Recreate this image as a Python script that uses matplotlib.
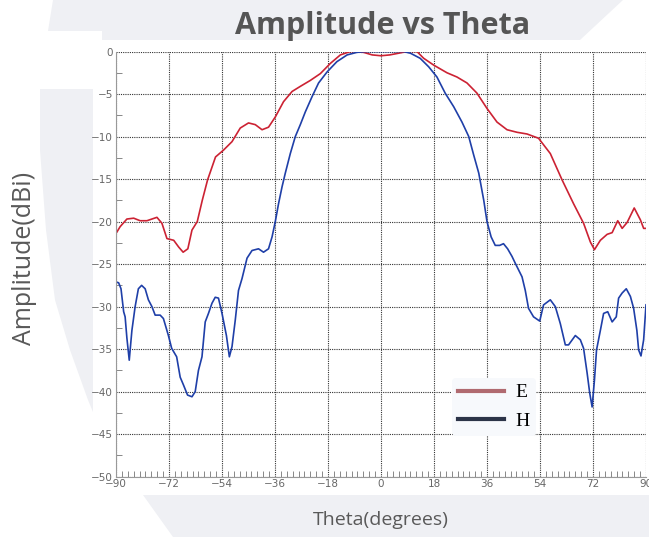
import matplotlib.pyplot as plt
from matplotlib.lines import Line2D
from matplotlib.patches import Polygon

# E-plane (red)
e_theta = [-90, -88.6, -86.3, -84, -81.8, -79.5, -76.1, -74.4, -72.7, -70.4, -68.7, -67.2, -65.6,
           -64.2, -62.4, -60.7, -58.9, -56.2, -53.5, -50.6, -47.8, -45, -42.7, -40.4, -38.2, -35.9,
           -33.1, -30.2, -27.4, -24, -20.6, -17.2, -13.8, -10.4, -5.9, -3, 0, 3, 6, 8.8, 12.2,
           14.5, 17.9, 22.4, 25.8, 29.2, 32.6, 36, 39.4, 42.8, 46.2, 49.6, 53.5, 57.5, 61.5, 65.4,
           68.8, 71.1, 72.5, 74.5, 76.8, 78.5, 80.4, 81.9, 83.6, 86, 88.1, 89.2, 90]
e_db = [-21.4, -20.6, -19.7, -19.6, -19.9, -19.9, -19.5, -20.2, -22.0, -22.2, -23.0, -23.6, -23.2,
        -21.0, -20.0, -17.5, -15.1, -12.4, -11.6, -10.6, -9.0, -8.4, -8.6, -9.2, -8.9, -7.7,
        -5.9, -4.7, -4.1, -3.4, -2.6, -1.4, -0.4, 0, -0.1, -0.4, -0.5, -0.4, -0.2, 0, 0,
        -0.8, -1.6, -2.5, -3.0, -3.7, -4.9, -6.7, -8.3, -9.2, -9.5, -9.7, -10.2, -12.0, -15.1, -17.9,
        -20.2, -22.4, -23.3, -22.2, -21.5, -21.3, -19.9, -20.8, -20.1, -18.4, -19.8, -20.8, -20.8]

# H-plane (blue)
h_theta = [-90, -89.1, -88.3, -87.4, -86.9, -86.3, -85.5, -84.6, -83.5, -82.4, -81.3, -80.1, -79.0,
           -77.8, -76.7, -75.0, -73.9, -72.2, -71.1, -69.4, -68.2, -67.1, -65.7, -64.2, -63.1, -62.0,
           -60.8, -59.7, -58.6, -57.4, -56.3, -55.2, -54.0, -52.5, -51.5, -50.6, -49.5, -48.4, -47.2,
           -45.5, -43.8, -41.6, -39.9, -38.2, -37.0, -35.9, -34.8, -33.6, -32.5, -30.8, -29.1, -27.4,
           -25.7, -23.4, -21.2, -18.3, -15.0, -11.5, -8.2, -4.8, 0, 4, 7.6, 10.0, 13.3, 16.2, 19.0,
           21.8, 24.7, 27.5, 29.8, 31.5, 33.2, 34.9, 36.0, 37.4, 38.8, 40.3, 41.6, 43.0, 44.5, 45.6,
           47.9, 49.0, 50.1, 51.8, 53.9, 55.2, 57.5, 59.2, 60.9, 62.6, 63.7, 66.0, 67.7, 68.8, 70.0,
           70.9, 71.7, 72.5, 73.2, 74.5, 75.6, 77.0, 78.5, 79.9, 80.7, 81.9, 83.3, 84.7, 85.8, 86.9,
           87.5, 88.3, 89.2, 90]
h_db = [-27.1, -27.2, -27.9, -30.6, -31.2, -33.7, -36.3, -32.8, -30.0, -27.9, -27.5, -27.9, -29.2,
        -30.0, -31.0, -31.0, -31.4, -33.4, -34.9, -35.9, -38.3, -39.2, -40.4, -40.6, -40.0, -37.5,
        -35.9, -31.8, -30.8, -29.6, -28.9, -29.0, -30.8, -33.4, -35.9, -34.7, -31.6, -28.1, -26.7,
        -24.3, -23.4, -23.2, -23.6, -23.2, -21.8, -20.0, -17.9, -15.9, -14.3, -12.0, -10.0, -8.6,
        -7.1, -5.3, -3.7, -2.4, -1.2, -0.4, -0.1, 0, 0, 0, 0, -0.2, -0.8, -1.8, -3.0,
        -4.9, -6.5, -8.3, -10.0, -12.2, -14.3, -17.5, -20.0, -21.8, -22.8, -22.8, -22.6, -23.2, -24.1, -24.9,
        -26.5, -28.1, -30.2, -31.2, -31.7, -29.8, -29.2, -30.0, -32.0, -34.5, -34.5, -33.4, -33.9, -34.9, -37.8,
        -40.2, -41.8, -38.6, -35.1, -32.8, -30.8, -30.6, -31.8, -31.2, -29.0, -28.4, -27.9, -28.8, -30.2, -32.8,
        -35.1, -35.8, -33.9, -29.8]

x_ticks = [-90, -72, -54, -36, -18, 0, 18, 36, 54, 72, 90]
y_ticks = [0, -5, -10, -15, -20, -25, -30, -35, -40, -45, -50]

W, H = 649, 537
fig = plt.figure(figsize=(W / 100, H / 100), dpi=100)
fig.set_facecolor('white')

# faint background shapes (pixel coords, y from top)
wm = '#eff0f4'
def px(pts):
    return [(x / W, 1 - y / H) for x, y in pts]

shapes = [
    [(53, 0), (623, 0), (580, 40), (102, 40), (102, 31), (48, 31)],
    [(40, 89), (93, 89), (93, 412), (88, 400), (70, 350), (55, 300), (46, 230), (40, 150)],
    [(143, 495), (649, 495), (649, 537), (173, 537)],
]
for s in shapes:
    fig.patches.append(Polygon(px(s), closed=True, transform=fig.transFigure,
                               facecolor=wm, edgecolor='none', zorder=-2))
# white chart image area
fig.patches.append(Polygon(px([(93, 40), (649, 40), (649, 495), (93, 495)]), closed=True,
                           transform=fig.transFigure, facecolor='white', edgecolor='none', zorder=-1))

ax = fig.add_axes([116 / W, 1 - 476.7 / H, 530 / W, 425.2 / H])
ax.set_facecolor('white')

ax.plot(e_theta, e_db, color='#cc2233', lw=1.2)
ax.plot(h_theta, h_db, color='#1f3fa8', lw=1.2)

ax.set_xlim(-90, 90)
ax.set_ylim(-50, 0)
ax.set_xticks(x_ticks)
ax.set_yticks(y_ticks)
ax.set_xticks(range(-88, 90, 2), minor=True)
ax.set_yticks([-2.5 - 5 * i for i in range(10)], minor=True)

ax.grid(True, which='major', color='#333333', linestyle=(0, (1, 1)), linewidth=0.8)
ax.tick_params(which='major', length=0, labelsize=7.5, labelcolor='#666666', pad=2)
ax.tick_params(which='minor', direction='in', length=4, color='#888888', width=0.7)

for side in ['top', 'right']:
    ax.spines[side].set_visible(False)
for side in ['left', 'bottom']:
    ax.spines[side].set_color('#999999')
    ax.spines[side].set_linewidth(0.8)

handles = [Line2D([], [], color='#b06a70', lw=3), Line2D([], [], color='#2c3448', lw=3)]
leg = ax.legend(handles, ['E', 'H'], loc='upper left', bbox_to_anchor=(0.615, 0.255),
                prop={'family': 'Liberation Serif', 'size': 14}, frameon=True,
                handlelength=2.4, handletextpad=0.6, labelspacing=0.55, borderpad=0.3)
leg.get_frame().set_facecolor('#f7f9fc')
leg.get_frame().set_edgecolor('none')
leg.get_frame().set_alpha(1)

fig.text(383 / W, 1 - 26 / H, 'Amplitude vs Theta', ha='center', va='center',
         fontsize=22, fontweight='bold', color='#555555', family='Open Sans')
fig.text(25 / W, 1 - 258 / H, 'Amplitude(dBi)', ha='center', va='center', rotation=90,
         fontsize=18, color='#595959', family='Open Sans')
fig.text(381 / W, 1 - 520 / H, 'Theta(degrees)', ha='center', va='center',
         fontsize=14, color='#595959', family='Open Sans')

fig.savefig('out.png', dpi=100)
